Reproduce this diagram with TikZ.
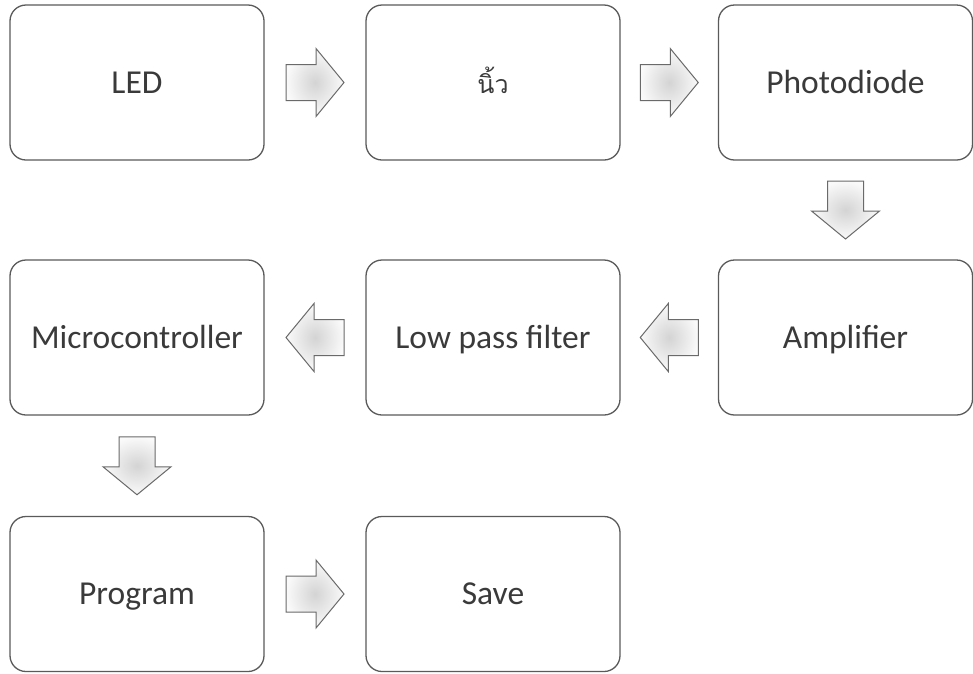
\documentclass[tikz,border=0pt]{standalone}
\usepackage{fontspec}
\setmainfont{Carlito}
\newfontfamily\thaifont[Script=Thai]{Loma}
\usetikzlibrary{calc}

\definecolor{boxline}{HTML}{5A5A5A}
\definecolor{boxtext}{HTML}{3A3A3A}
\definecolor{arrline}{HTML}{6A6A6A}

\tikzset{
  stepbox/.style={draw=boxline, line width=1.3pt, rounded corners=16pt,
    minimum width=254pt, minimum height=155pt, inner sep=0pt,
    text height=24pt, text depth=3pt,
    text=boxtext, font=\fontsize{33.5}{40}\selectfont},
  blockarrow/.style={draw=arrline, line width=1pt, line join=miter,
    shading=radial, inner color=gray!34, outer color=gray!4}
}

% block arrow pointing along #2 degrees, centred on coordinate #1
\newcommand{\flowarrow}[2]{%
  \draw[blockarrow, shift={(#1)}, rotate=#2]
    (-29,-18) -- (1,-18) -- (1,-34) -- (29,0) -- (1,34) -- (1,18) -- (-29,18) -- cycle;}

\begin{document}
\begin{tikzpicture}[x=1pt, y=-1pt]
  % page frame
  \fill[white] (0,0) rectangle (973,673);
  \useasboundingbox (0,0) rectangle (973,673);

  % first row
  \node[stepbox] (led)   at (137,82.5) {LED};
  \node[stepbox] (nail)  at (493,82.5) {\thaifont\fontsize{25}{30}\selectfont นิ้ว};
  \node[stepbox] (pd)    at (845.5,82.5) {Photodiode};
  % second row
  \node[stepbox] (mcu)   at (137,337.5) {Microcontroller};
  \node[stepbox] (lpf)   at (493,337.5) {Low pass filter};
  \node[stepbox] (amp)   at (845.5,337.5) {Amplifier};
  % third row
  \node[stepbox] (prog)  at (137,594) {Program};
  \node[stepbox] (save)  at (493,594) {Save};

  % midpoints of the gaps between neighbouring steps
  \coordinate (m1) at ($(led.east)!0.5!(nail.west)$);
  \coordinate (m2) at ($(nail.east)!0.5!(pd.west)$);
  \coordinate (m3) at ($(pd.south)!0.5!(amp.north)$);
  \coordinate (m4) at ($(amp.west)!0.5!(lpf.east)$);
  \coordinate (m5) at ($(lpf.west)!0.5!(mcu.east)$);
  \coordinate (m6) at ($(mcu.south)!0.5!(prog.north)$);
  \coordinate (m7) at ($(prog.east)!0.5!(save.west)$);

  % block arrows
  \flowarrow{m1}{0}
  \flowarrow{m2}{0}
  \flowarrow{m3}{-90}
  \flowarrow{m4}{180}
  \flowarrow{m5}{180}
  \flowarrow{m6}{-90}
  \flowarrow{m7}{0}
\end{tikzpicture}
\end{document}
